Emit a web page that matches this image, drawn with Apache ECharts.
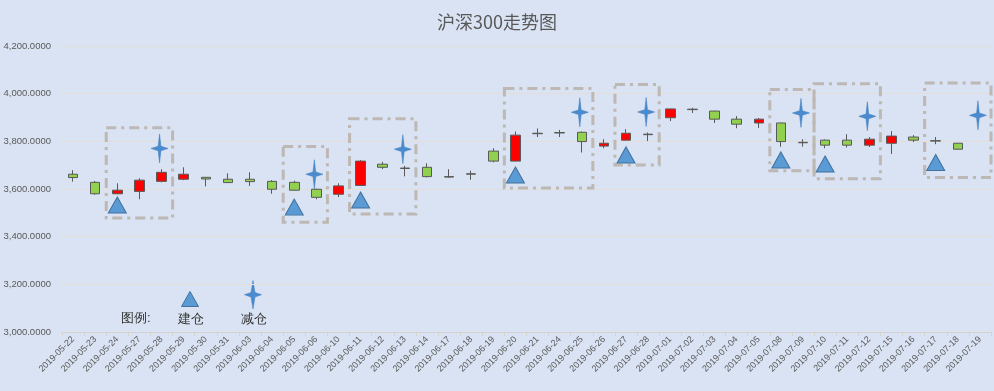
<!DOCTYPE html>
<html>
<head>
<meta charset="utf-8">
<script src="https://cdn.jsdelivr.net/npm/echarts@6/dist/echarts.min.js"></script>
<style>
html,body{margin:0;padding:0;background:#DAE3F3;}
#chart{width:994px;height:391px;}
</style>
</head>
<body>
<div id="chart"></div>
<script>
// ---- data ----
var categories = ['2019-05-22','2019-05-23','2019-05-24','2019-05-27','2019-05-28','2019-05-29','2019-05-30','2019-05-31',
  '2019-06-03','2019-06-04','2019-06-05','2019-06-06','2019-06-10','2019-06-11','2019-06-12','2019-06-13','2019-06-14',
  '2019-06-17','2019-06-18','2019-06-19','2019-06-20','2019-06-21','2019-06-24','2019-06-25','2019-06-26','2019-06-27',
  '2019-06-28','2019-07-01','2019-07-02','2019-07-03','2019-07-04','2019-07-05','2019-07-08','2019-07-09','2019-07-10',
  '2019-07-11','2019-07-12','2019-07-15','2019-07-16','2019-07-17','2019-07-18','2019-07-19'];
var openVals  = [3662,3628,3580,3590,3632,3641,3649,3641,3641,3632,3628,3599,3578,3615,3704,3688,3691,3652,3664,3759,3717,3834,3837,3838,3780,3805,3830,3899,3935,3927,3893,3877,3877,3796,3805,3805,3784,3792,3818,3803,3792,null];
var closeVals = [3648,3580,3595,3637,3670,3662,3642,3627,3631,3599,3595,3565,3613,3717,3691,3686,3652,3650,3662,3717,3826,3832,3835,3799,3792,3834,3828,3936,3933,3893,3872,3893,3799,3794,3784,3784,3809,3822,3805,3801,3767,null];
var lowVals   = [3631,3576,3578,3557,3628,3637,3611,3625,3613,3580,3594,3557,3566,3614,3683,3653,3648,3647,3639,3712,3716,3818,3818,3753,3771,3804,3801,3885,3919,3877,3855,3856,3777,3778,3771,3774,3776,3747,3797,3788,3766,null];
var highVals  = [3679,3634,3624,3645,3683,3691,3650,3666,3670,3637,3635,3601,3624,3721,3714,3697,3708,3683,3677,3771,3841,3854,3848,3841,3809,3851,3837,3937,3941,3928,3906,3898,3878,3809,3808,3830,3818,3843,3826,3818,3793,null];
// 建仓 (build position) markers: [category index, value]
var buildIdx = [2,10,13,20,25,32,34,39];
var buildVals = [3533,3524,3554,3659,3743,3722,3705,3711];
// 减仓 (reduce position) markers
var reduceIdx = [4,11,15,23,26,33,36,41];
var reduceVals = [3770,3662,3767,3922,3923,3919,3905,3909];
// highlighted windows: first idx, last idx, top value, bottom value
var boxFrom = [2,10,13,20,25,32,34,39];
var boxTo   = [4,11,15,23,26,33,36,41];
var boxTop  = [3857,3778,3895,4022,4038,4017,4042,4045];
var boxBottom = [3478,3460,3495,3604,3701,3677,3643,3648];
var yTicks = [3000,3200,3400,3600,3800,4000,4200];

// ---- build ----
var kData = categories.map(function(c,i){
  if (openVals[i] == null) return '-';
  return [openVals[i], closeVals[i], lowVals[i], highVals[i]];
});
var buildData = buildIdx.map(function(ix,i){ return [categories[ix], buildVals[i]]; });
var reduceData = reduceIdx.map(function(ix,i){ return [categories[ix], reduceVals[i]]; });
var boxData = boxFrom.map(function(f,i){ return [f, boxTo[i], boxTop[i], boxBottom[i]]; });

var starPath = 'path://M50,0 L58,42 L100,50 L58,58 L50,100 L42,58 L0,50 L42,42 Z';
var labelColor = '#595959';
var fontFam = '"Liberation Sans","Noto Sans CJK SC",sans-serif';

function fmt(v){
  var s = Math.abs(v).toFixed(4).split('.');
  s[0] = s[0].replace(/\B(?=(\d{3})+(?!\d))/g, ',');
  return (v<0?'-':'') + s.join('.');
}

var chart = echarts.init(document.getElementById('chart'), null, {renderer:'canvas'});
chart.setOption({
  backgroundColor: '#DAE3F3',
  animation: false,
  textStyle: {fontFamily: fontFam},
  title: {
    text: '沪深300走势图', left: 'center', top: 8,
    textStyle: {fontSize: 18, fontWeight: 'normal', color: labelColor, fontFamily: '"Noto Sans CJK SC",sans-serif'}
  },
  grid: {left: 62, right: 3, top: 46, bottom: 59, containLabel: false},
  xAxis: {
    type: 'category', data: categories, boundaryGap: true,
    axisLine: {lineStyle: {color: '#D6D3CE', width: 1}},
    axisTick: {show: true, length: 4, interval: 0, lineStyle: {color: '#D6D3CE'}},
    axisLabel: {interval: 0, rotate: 45, fontSize: 9, color: labelColor, margin: 6, fontFamily: fontFam},
    splitLine: {show: false}
  },
  yAxis: {
    type: 'value', min: yTicks[0], max: yTicks[yTicks.length-1], interval: 200,
    axisLine: {show: false}, axisTick: {show: false},
    axisLabel: {fontSize: 9.5, color: labelColor, margin: 11, formatter: function(v){ return fmt(v); }, fontFamily: fontFam},
    splitLine: {lineStyle: {color: '#E3DFD8', width: 1}}
  },
  graphic: [
    {type: 'text', left: 121, top: 312, style: {text: '图例:', fontSize: 13, fill: '#333', font: '13px "Noto Sans CJK SC"'}},
    {type: 'polygon', shape: {points: [[190,291.5],[181.5,306.5],[198.5,306.5]]}, style: {fill: '#5B9BD5', stroke: '#41719C', lineWidth: 1}},
    {type: 'text', left: 178, top: 313, style: {text: '建仓', fontSize: 13, fill: '#333', font: '13px "Noto Sans CJK SC"'}},
    {type: 'polygon', shape: {points: [[253,280.5],[255,292.5],[261.5,294.7],[255,297],[253,309],[251,297],[244.5,294.7],[251,292.5]]}, style: {fill: '#4A8BD0', stroke: '#3E7CBD', lineWidth: 0.5}},
    {type: 'text', left: 241, top: 313, style: {text: '减仓', fontSize: 13, fill: '#333', font: '13px "Noto Sans CJK SC"'}}
  ],
  series: [
    {
      type: 'candlestick', data: kData, barWidth: 10,
      itemStyle: {color: '#FF0000', color0: '#92D050', borderColor: '#595959', borderColor0: '#595959', borderColorDoji: '#595959', borderWidth: 1},
      z: 3
    },
    {
      type: 'custom', data: boxData, encode: {x: [0,1], y: [2,3]}, z: 2, silent: true,
      renderItem: function(params, api){
        var bw = api.size([1,0])[0];
        var p0 = api.coord([api.value(0), api.value(2)]);
        var p1 = api.coord([api.value(1), api.value(3)]);
        var x = p0[0] - bw/2, w = (p1[0] + bw/2) - x;
        return {
          type: 'rect',
          shape: {x: x, y: p0[1], width: w, height: p1[1]-p0[1]},
          style: {fill: 'none', stroke: '#BDB8B3', lineWidth: 3, lineDash: [10,5,3,5]}
        };
      }
    },
    {
      type: 'scatter', data: buildData, symbol: 'triangle', symbolSize: [18,16], z: 4,
      itemStyle: {color: '#5B9BD5', borderColor: '#41719C', borderWidth: 1, opacity: 1}
    },
    {
      type: 'scatter', data: reduceData, symbol: starPath, symbolSize: [17,29], symbolOffset: [-2,0], z: 4,
      itemStyle: {color: '#4A8BD0', borderColor: '#3E7CBD', borderWidth: 0.5, opacity: 1}
    }
  ]
});
</script>
</body>
</html>
